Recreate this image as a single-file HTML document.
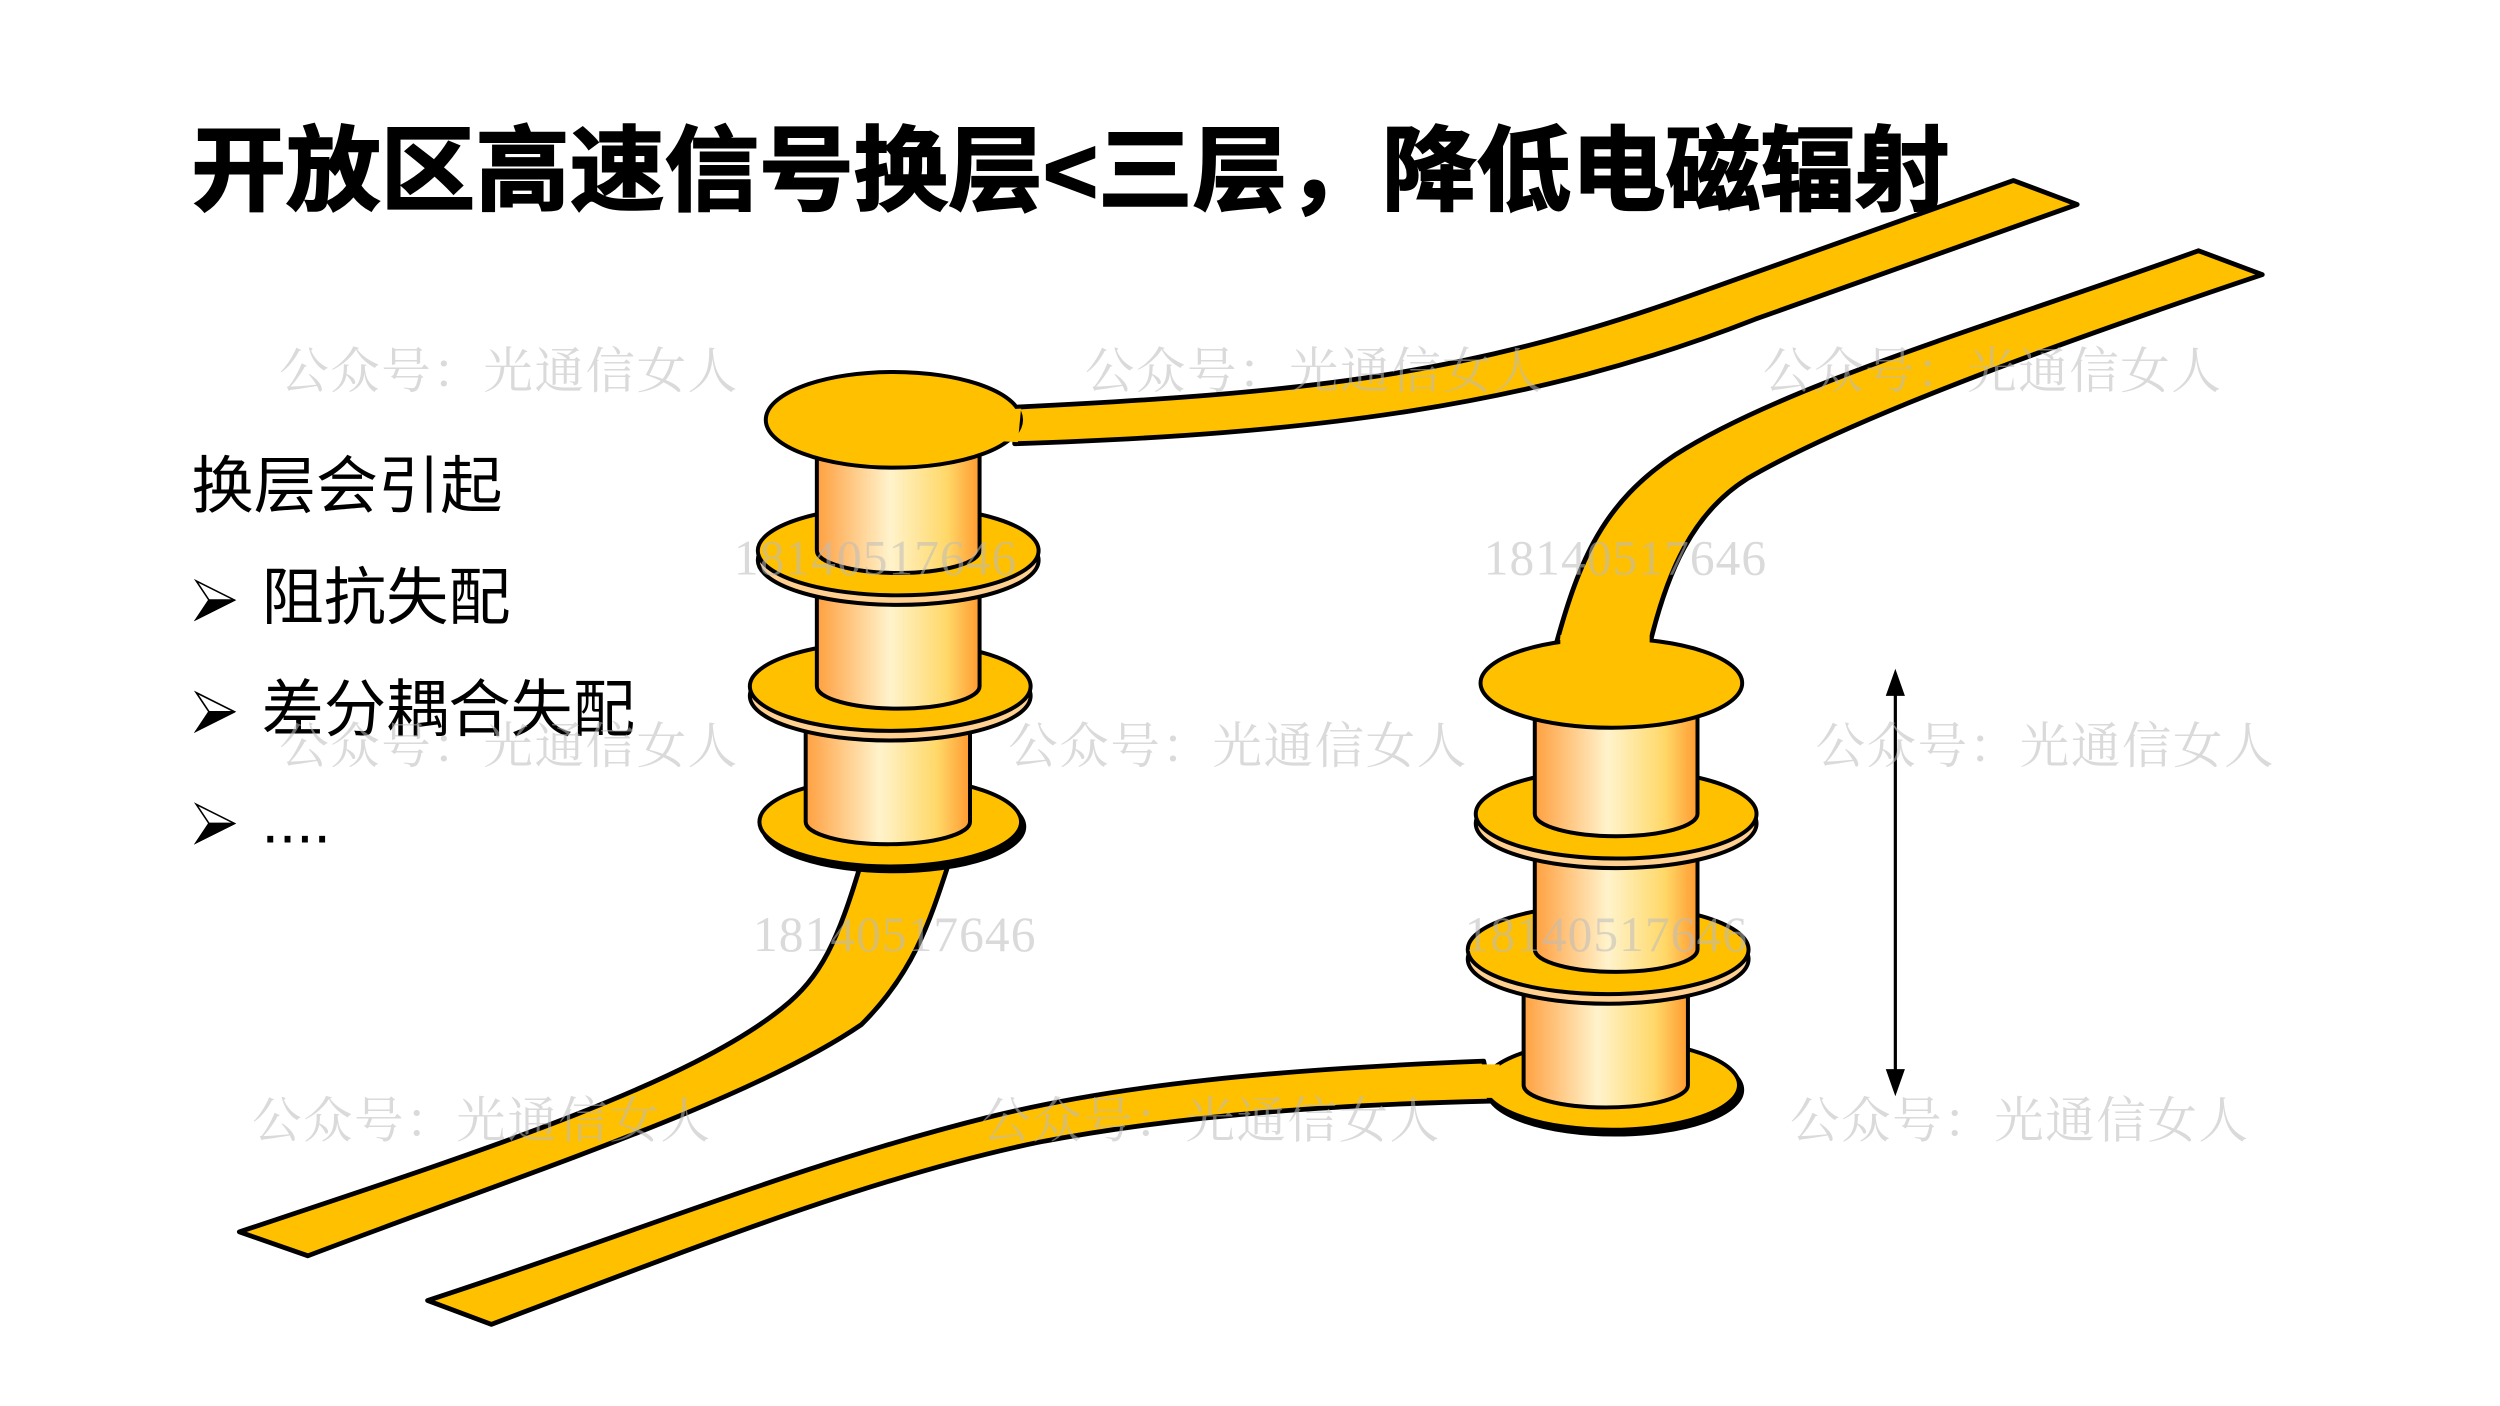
<!DOCTYPE html>
<html><head><meta charset="utf-8"><style>
html,body{margin:0;padding:0;background:#fff;}
svg{display:block;}
</style></head><body>
<svg width="2500" height="1406" viewBox="0 0 1567 881" xmlns="http://www.w3.org/2000/svg">
<defs>
<linearGradient id="g" x1="0" x2="1" y1="0" y2="0">
<stop offset="0" stop-color="#ffa040"/><stop offset="0.45" stop-color="#fff3cc"/><stop offset="0.8" stop-color="#ffd868"/><stop offset="1" stop-color="#ff9a30"/>
</linearGradient>
</defs>
<rect width="1567" height="881" fill="#fff"/>
<text x="120" y="127" font-family="Liberation Sans, Noto Sans CJK SC, sans-serif" font-weight="bold" font-size="58" stroke="#000" stroke-width="1.2" textLength="1102" lengthAdjust="spacingAndGlyphs">开放区高速信号换层&lt;三层，降低电磁辐射</text>

<g font-family="Liberation Sans, Noto Sans CJK SC, sans-serif" font-size="39" fill="#000">
<text x="120" y="318">换层会引起</text>
<text x="164" y="388">阻抗失配</text>
<text x="164" y="458">差分耦合失配</text>
<text x="164" y="528">....</text>
</g>
<g fill="#000" stroke="#000" stroke-width="1">
<path d="M123,364 L147,376 L123,388 L131,376 Z" fill="#fff"/><path d="M123,388 L147,376 L131,376 Z"/>
<path d="M123,434 L147,446 L123,458 L131,446 Z" fill="#fff"/><path d="M123,458 L147,446 L131,446 Z"/>
<path d="M123,504 L147,516 L123,528 L131,516 Z" fill="#fff"/><path d="M123,528 L147,516 L131,516 Z"/>
</g>

<g stroke="#000" stroke-width="3" stroke-linejoin="round" fill="#ffc000">
<path d="M540,540 C525,590 515,612 490,632 C430,680 300,722 150,772 L193,787 C330,735 470,690 540,642 C572,610 582,580 595,540 Z"/>
<path d="M638,255 C820,246 920,235 1060,185 L1262,113 L1302,128 L1100,200 C960,255 820,272 636,278 Z"/>
<path d="M975,405 C990,350 1005,315 1050,285 C1120,240 1260,200 1378,157 L1418,172 C1290,215 1160,262 1095,300 C1060,322 1045,360 1035,400 Z"/>
<path d="M930,665 C800,670 700,680 620,700 C500,730 400,772 268,815 L308,830 C450,776 550,737 650,716 C750,697 850,692 935,690 Z"/>
</g>

<g stroke="#000" stroke-width="2.5">
<ellipse cx="560" cy="518" rx="82" ry="28" fill="#000"/>
<ellipse cx="558" cy="515" rx="82" ry="28" fill="#ffc000"/>
<path d="M505,450 L505,515 A51.5,14 0 0 0 608,515 L608,450 Z" fill="url(#g)"/>
<ellipse cx="558" cy="436" rx="88" ry="28" fill="#ffd090"/>
<ellipse cx="558" cy="430" rx="88" ry="28" fill="#ffc000"/>
<path d="M512,365 L512,430 A51,14 0 0 0 614,430 L614,365 Z" fill="url(#g)"/>
<ellipse cx="563" cy="351" rx="88" ry="28" fill="#ffd090"/>
<ellipse cx="563" cy="345" rx="88" ry="28" fill="#ffc000"/>
<path d="M512,280 L512,345 A51,14 0 0 0 614,345 L614,280 Z" fill="url(#g)"/>
<ellipse cx="560" cy="263" rx="80" ry="30" fill="#ffc000"/>
<ellipse cx="1012" cy="683" rx="80" ry="28" fill="#000"/>
<ellipse cx="1010" cy="680" rx="80" ry="28" fill="#ffc000"/>
<path d="M955,615 L955,680 A51.5,14 0 0 0 1058,680 L1058,615 Z" fill="url(#g)"/>
<ellipse cx="1008" cy="601" rx="88" ry="28" fill="#ffd090"/>
<ellipse cx="1008" cy="595" rx="88" ry="28" fill="#ffc000"/>
<path d="M962,530 L962,595 A51,14 0 0 0 1064,595 L1064,530 Z" fill="url(#g)"/>
<ellipse cx="1013" cy="516" rx="88" ry="28" fill="#ffd090"/>
<ellipse cx="1013" cy="510" rx="88" ry="28" fill="#ffc000"/>
<path d="M962,440 L962,510 A51,14 0 0 0 1064,510 L1064,440 Z" fill="url(#g)"/>
<ellipse cx="1010" cy="428" rx="82" ry="28" fill="#ffc000"/>
</g>
<path d="M620,257 L640,256 L638,277 L620,276 Z" fill="#ffc000"/>
<path d="M978,398 L1034,396 L1034,404 L978,406 Z" fill="#ffc000"/>
<path d="M928,667 L940,667 L940,688 L928,688 Z" fill="#ffc000"/>

<line x1="1188" y1="430" x2="1188" y2="676" stroke="#000" stroke-width="2"/>
<path d="M1188,419 L1182,436 L1194,436 Z M1188,687 L1182,670 L1194,670 Z" fill="#000"/>

<g font-family="Liberation Serif, Noto Serif CJK SC, serif" font-size="31" fill="#bbb" fill-opacity="0.55">
<text x="175" y="243" textLength="287">公众号：光通信女人</text>
<text x="680" y="243" textLength="287">公众号：光通信女人</text>
<text x="1105" y="243" textLength="287">公众号：光通信女人</text>
<text x="175" y="478" textLength="287">公众号：光通信女人</text>
<text x="632" y="478" textLength="287">公众号：光通信女人</text>
<text x="1138" y="478" textLength="287">公众号：光通信女人</text>
<text x="158" y="713" textLength="287">公众号：光通信女人</text>
<text x="615" y="713" textLength="287">公众号：光通信女人</text>
<text x="1122" y="713" textLength="287">公众号：光通信女人</text>
<text x="460" y="360" textLength="177">18140517646</text>
<text x="930" y="360" textLength="177">18140517646</text>
<text x="472" y="596" textLength="177">18140517646</text>
<text x="918" y="596" textLength="177">18140517646</text>
</g>
</svg>
</body></html>
